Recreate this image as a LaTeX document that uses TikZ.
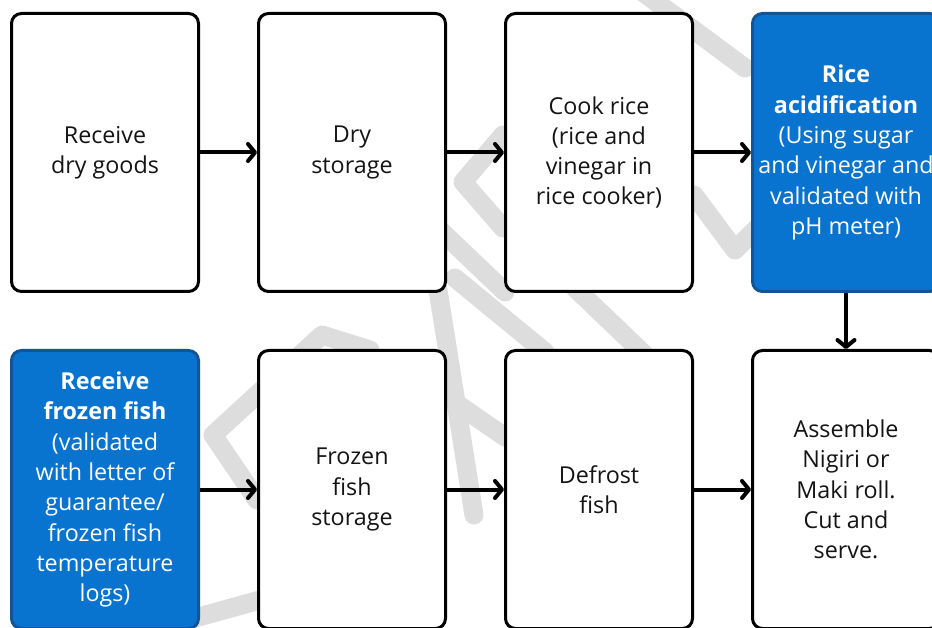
\documentclass[tikz,border=0pt]{standalone}
\usepackage{fontspec}
\setmainfont{Open Sans}
\usetikzlibrary{positioning,arrows.meta}

\definecolor{ccpblue}{RGB}{9,116,207}
\definecolor{ccpedge}{RGB}{18,84,150}
\definecolor{wmgray}{RGB}{221,221,221}

\newcommand*{\boxWidth}{187pt}
\newcommand*{\boxHeight}{278pt}
\newcommand*{\colGap}{57pt}
\newcommand*{\rowGap}{56pt}

\tikzset{
  stepbox/.style={draw=black, fill=white, line width=3pt, rounded corners=10pt,
    minimum width=\boxWidth, minimum height=\boxHeight, align=center,
    text=black!92, font=\fontsize{23.3}{30.3}\selectfont},
  ccpbox/.style={stepbox, draw=ccpedge, fill=ccpblue, text=white},
  flow/.style={line width=4pt, -{Straight Barb[round,length=7pt,width=17pt]}},
  watermark/.style={wmgray, line width=19pt, line cap=round, line join=round}
}

\begin{document}
\begin{tikzpicture}[x=1pt,y=-1pt]
\useasboundingbox (0,0) rectangle (932,628);
\clip (0,0) rectangle (932,628);

% watermark behind the boxes
\draw[watermark] (640,-10) -- (745,68);
\draw[watermark] (503,135) -- (463,182) -- (503,228);
\draw[watermark] (694,195) -- (735,250) -- (760,225);
\draw[watermark] (440,230) -- (505,292);
\draw[watermark] (438,290) -- (474,515);
\draw[watermark] (455,278) -- (545,352);
\draw[watermark] (575,288) -- (645,355);
\draw[watermark] (257,500) -- (213,435) -- (322,335) -- (370,350);
\draw[watermark] (447,397) -- (505,437);
\draw[watermark] (195,618) -- (260,600);

% top row: dry goods and rice
\node[stepbox] (rcvdry) at (105,152.5) {Receive\\dry goods};
\node[stepbox, right=\colGap of rcvdry] (drystore) {Dry\\storage};
\node[stepbox, right=\colGap of drystore] (cookrice) {Cook rice\\(rice and\\vinegar in\\rice cooker)};
\node[ccpbox, right=\colGap of cookrice] (acidify) {\textbf{Rice}\\\textbf{acidification}\\(Using sugar\\and vinegar and\\validated with\\pH meter)};

% bottom row: fish
\node[ccpbox, below=\rowGap of rcvdry] (rcvfish) {\textbf{Receive}\\\textbf{frozen fish}\\(validated\\with letter of\\guarantee/\\frozen fish\\temperature\\logs)};
\node[stepbox, right=\colGap of rcvfish] (fishstore) {Frozen\\fish\\storage};
\node[stepbox, right=\colGap of fishstore] (defrost) {Defrost\\fish};
\node[stepbox, right=\colGap of defrost] (assemble) {Assemble\\Nigiri or\\Maki roll.\\Cut and\\serve.};

% flow
\draw[flow] (rcvdry) -- (drystore);
\draw[flow] (drystore) -- (cookrice);
\draw[flow] (cookrice) -- (acidify);
\draw[flow] (acidify) -- (assemble);
\draw[flow] (rcvfish) -- (fishstore);
\draw[flow] (fishstore) -- (defrost);
\draw[flow] (defrost) -- (assemble);

\end{tikzpicture}
\end{document}
